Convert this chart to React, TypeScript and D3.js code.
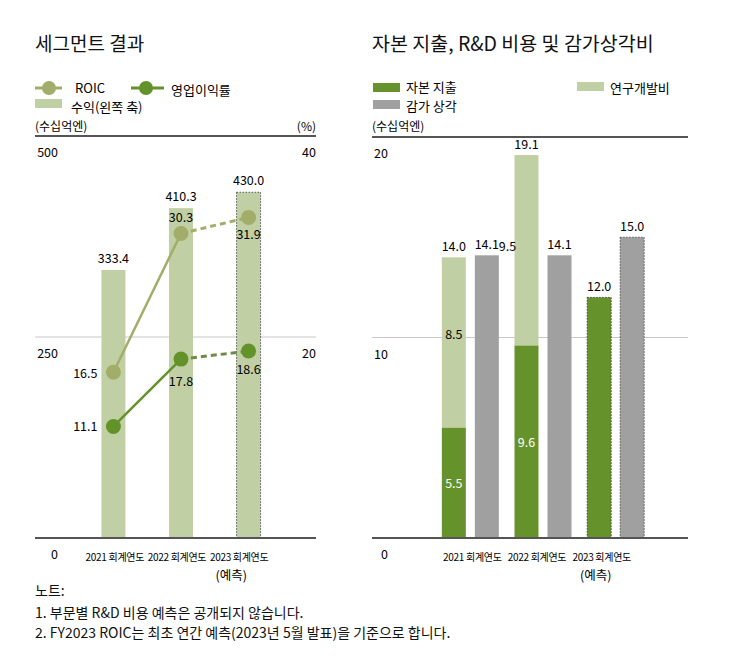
import React from "react";
import * as d3 from "d3";

const years = ["2021 회계연도", "2022 회계연도", "2023 회계연도"];
const revenue = [333.4, 410.3, 430.0];
const roic = [16.5, 30.3, 31.9];
const opMargin = [11.1, 17.8, 18.6];
const forecast = [false, false, true];

const capex = [5.5, 9.6, 12.0];
const rnd = [8.5, 9.5, null];
const depreciation = [14.1, 14.1, 15.0];

const leftTicks = [0, 250, 500];
const rightTicks = [0, 20, 40];
const capTicks = [0, 10, 20];

const notes = [
  "노트:",
  "1. 부문별 R&D 비용 예측은 공개되지 않습니다.",
  "2. FY2023 ROIC는 최초 연간 예측(2023년 5월 발표)을 기준으로 합니다.",
];

const C = {
  bar: "#c1d0a4",
  roic: "#a3ad6a",
  roicDash: "#a3ad6a",
  op: "#64922a",
  opDash: "#6e8c45",
  capex: "#66922c",
  gray: "#a0a0a0",
  axis: "#555",
  grid: "#c8c8c8",
  text: "#111",
};

const FONT = "'Noto Sans CJK KR', 'Noto Sans', sans-serif";

function LeftChart() {
  const x0 = 35, x1 = 316;
  const y = d3.scaleLinear().domain([0, 500]).range([538, 136]);
  const yp = d3.scaleLinear().domain([0, 40]).range([538, 136]);
  const x = d3.scaleBand<number>().domain([0, 1, 2]).range([81, 281]).paddingInner(0.64).paddingOuter(0.3);
  const cx = (i: number) => (x(i) as number) + x.bandwidth() / 2;
  const bw = 24;
  const lineGen = d3.line<number>().x((_, i) => cx(i)).y((v) => yp(v));
  const seg = (arr: number[], a: number, b: number) =>
    `M${cx(a)},${yp(arr[a])}L${cx(b)},${yp(arr[b])}`;
  const labelX = (i: number) => cx(1) - 4 + (cx(i) - cx(1)) * 0.92;
  return (
    <g>
      <text x={x0} y={51} fontSize={19} fill={C.text}>세그먼트 결과</text>
      {/* legend */}
      <line x1={35} x2={62} y1={88} y2={88} stroke={C.roic} strokeWidth={3} />
      <circle cx={49} cy={88} r={7} fill={C.roic} />
      <text x={75} y={93} fontSize={13}>ROIC</text>
      <line x1={131} x2={164} y1={88} y2={88} stroke={C.op} strokeWidth={3} />
      <circle cx={146} cy={88} r={7} fill={C.op} />
      <text x={171} y={95} fontSize={13}>영업이익률</text>
      <rect x={35} y={99} width={27} height={9} fill={C.bar} />
      <text x={71} y={112} fontSize={13}>수익(왼쪽 축)</text>
      <text x={x0} y={131} fontSize={12}>(수십억엔)</text>
      <text x={x1} y={131} fontSize={12} textAnchor="end">(%)</text>

      <line x1={x0} x2={x1} y1={y(250)} y2={y(250)} stroke={C.grid} strokeWidth={1} />
      {revenue.map((v, i) => (
        <rect key={i} x={cx(i) - bw / 2} y={y(v)} width={bw} height={y(0) - y(v)} fill={C.bar}
          stroke={forecast[i] ? "#555" : "none"} strokeDasharray="1.5,1.5" strokeWidth={1} />
      ))}
      <line x1={x0} x2={x1} y1={y(500)} y2={y(500)} stroke={C.axis} strokeWidth={2} />
      <line x1={x0} x2={x1} y1={y(0)} y2={y(0)} stroke={C.axis} strokeWidth={2} />
      {leftTicks.map((t) => (
        <text key={t} x={58} y={y(t) + 21} fontSize={12.5} textAnchor="end">{t}</text>
      ))}
      {rightTicks.filter((t) => t > 0).map((t) => (
        <text key={t} x={x1} y={yp(t) + 21} fontSize={12.5} textAnchor="end">{t}</text>
      ))}
      {revenue.map((v, i) => (
        <text key={i} x={cx(i)} y={y(v) - 7} fontSize={12.5} textAnchor="middle">{v.toFixed(1)}</text>
      ))}
      {/* lines */}
      <path d={lineGen(roic.slice(0, 2)) as string} fill="none" stroke={C.roic} strokeWidth={2.5} />
      <path d={seg(roic, 1, 2)} fill="none" stroke={C.roicDash} strokeWidth={3} strokeDasharray="6,4" />
      <path d={lineGen(opMargin.slice(0, 2)) as string} fill="none" stroke={C.op} strokeWidth={2.5} />
      <path d={seg(opMargin, 1, 2)} fill="none" stroke={C.opDash} strokeWidth={3} strokeDasharray="6,4" />
      {roic.map((v, i) => <circle key={"r" + i} cx={cx(i)} cy={yp(v)} r={7.5} fill={C.roic} />)}
      {opMargin.map((v, i) => <circle key={"o" + i} cx={cx(i)} cy={yp(v)} r={7.5} fill={C.op} />)}
      {/* point labels */}
      <text x={cx(0) - 16} y={yp(roic[0]) + 6} fontSize={12.5} textAnchor="end">{roic[0].toFixed(1)}</text>
      <text x={cx(1)} y={yp(roic[1]) - 11} fontSize={12.5} textAnchor="middle">{roic[1].toFixed(1)}</text>
      <text x={cx(2)} y={yp(roic[2]) + 22} fontSize={12.5} textAnchor="middle">{roic[2].toFixed(1)}</text>
      <text x={cx(0) - 16} y={yp(opMargin[0]) + 5} fontSize={12.5} textAnchor="end">{opMargin[0].toFixed(1)}</text>
      <text x={cx(1)} y={yp(opMargin[1]) + 27} fontSize={12.5} textAnchor="middle">{opMargin[1].toFixed(1)}</text>
      <text x={cx(2)} y={yp(opMargin[2]) + 23} fontSize={12.5} textAnchor="middle">{opMargin[2].toFixed(1)}</text>
      {/* x labels */}
      {years.map((yr, i) => (
        <text key={yr} x={labelX(i)} y={561} fontSize={10} textAnchor="middle" letterSpacing={-0.3}>{yr}</text>
      ))}
      <text x={labelX(2) - 8} y={580} fontSize={12.5} textAnchor="middle">(예측)</text>
    </g>
  );
}

function RightChart() {
  const x0 = 372, x1 = 688;
  const y = d3.scaleLinear().domain([0, 20]).range([538, 137]);
  const x = d3.scaleBand<number>().domain([0, 1, 2]).range([434, 652]).paddingInner(0.0).paddingOuter(0.0);
  const gc = (i: number) => (x(i) as number) + x.bandwidth() / 2;
  const bw = 24;
  const off = 16.5;
  const labelX = (i: number) => gc(1) - 6 + (gc(i) - gc(1)) * 0.89;
  return (
    <g>
      <text x={x0} y={51} fontSize={19.5} fill={C.text}>자본 지출, R&amp;D 비용 및 감가상각비</text>
      <rect x={373} y={83} width={27} height={9} fill={C.capex} />
      <text x={406} y={92} fontSize={13}>자본 지출</text>
      <rect x={373} y={100} width={27} height={9} fill={C.gray} />
      <text x={406} y={111} fontSize={13}>감가 상각</text>
      <rect x={577} y={82} width={27} height={9} fill={C.bar} />
      <text x={610} y={93} fontSize={13}>연구개발비</text>
      <text x={x0} y={131} fontSize={12}>(수십억엔)</text>

      <line x1={x0} x2={x1} y1={y(10)} y2={y(10)} stroke={C.grid} strokeWidth={1} />
      {capex.map((v, i) => {
        const bx = gc(i) - off - bw / 2;
        const r = rnd[i];
        const f = forecast[i];
        return (
          <g key={i}>
            {r != null && (
              <rect x={bx} y={y(v + r)} width={bw} height={y(v) - y(v + r)} fill={C.bar} />
            )}
            <rect x={bx} y={y(v)} width={bw} height={y(0) - y(v)} fill={C.capex}
              stroke={f ? "#444" : "none"} strokeDasharray="1.5,1.5" />
          </g>
        );
      })}
      {depreciation.map((v, i) => (
        <rect key={i} x={gc(i) + off - bw / 2} y={y(v)} width={bw} height={y(0) - y(v)} fill={C.gray}
          stroke={forecast[i] ? "#555" : "none"} strokeDasharray="1.5,1.5" />
      ))}
      <line x1={x0} x2={x1} y1={y(20)} y2={y(20)} stroke={C.axis} strokeWidth={2} />
      <line x1={x0} x2={x1} y1={y(0)} y2={y(0)} stroke={C.axis} strokeWidth={2} />
      {capTicks.map((t) => (
        <text key={t} x={388} y={y(t) + 21} fontSize={12.5} textAnchor="end">{t}</text>
      ))}
      {/* value labels */}
      {capex.map((v, i) => {
        const r = rnd[i];
        const cxx = gc(i) - off;
        if (r == null) {
          return <text key={i} x={cxx} y={y(v) - 6} fontSize={12.5} textAnchor="middle">{v.toFixed(1)}</text>;
        }
        return (
          <g key={i}>
            <text x={cxx} y={y(v / 2) + 5} fontSize={12.5} textAnchor="middle" fill="#fff">{v.toFixed(1)}</text>
            <text x={cxx} y={y(v + r) - 6} fontSize={12.5} textAnchor="middle">{(v + r).toFixed(1)}</text>
          </g>
        );
      })}
      <text x={gc(0) - off} y={y(capex[0] + (rnd[0] as number)) + 82} fontSize={12.5} textAnchor="middle">{(rnd[0] as number).toFixed(1)}</text>
      <text x={gc(1) - off - 19} y={y(capex[0] + (rnd[0] as number)) - 6} fontSize={12.5} textAnchor="middle">{(rnd[1] as number).toFixed(1)}</text>
      {depreciation.map((v, i) => (
        <text key={i} x={gc(i) + off} y={y(v) - 6} fontSize={12.5} textAnchor="middle">{v.toFixed(1)}</text>
      ))}
      {years.map((yr, i) => (
        <text key={yr} x={labelX(i)} y={561} fontSize={10} textAnchor="middle" letterSpacing={-0.3}>{yr}</text>
      ))}
      <text x={labelX(2) - 6} y={580} fontSize={12.5} textAnchor="middle">(예측)</text>
    </g>
  );
}

export default function App() {
  return (
    <svg width={732} height={668} style={{ position: "absolute", left: 0, top: 0, fontFamily: FONT, background: "#fff" }}
      fontFamily={FONT}>
      <rect width={732} height={668} fill="#fff" />
      <LeftChart />
      <RightChart />
      {notes.map((n, i) => (
        <text key={i} x={35} y={[596, 618, 638][i]} fontSize={14} fill={C.text}>{n}</text>
      ))}
    </svg>
  );
}
